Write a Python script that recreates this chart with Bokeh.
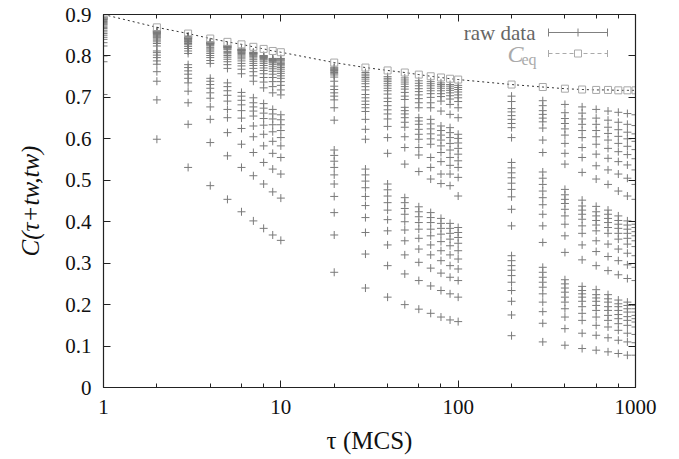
from bokeh.plotting import figure
from bokeh.models import (LinearAxis, LogAxis, SingleIntervalTicker, LogTicker, LogTickFormatter,
                          Range1d, Label, Whisker, TeeHead, BoxAnnotation, ColumnDataSource)
from bokeh.embed import file_html
from bokeh.resources import INLINE

# lag times tau (MCS)
tau = [1, 2, 3, 4, 5, 6, 7, 8, 9, 10, 20, 30, 40, 50, 60, 70, 80, 90, 100,
       200, 300, 400, 500, 600, 700, 800, 900, 1000]
# waiting times tw (one value per point inside every column)
tw = [1, 2, 3, 4, 5, 6, 7, 8, 9, 10, 20, 30, 40, 50, 60, 70, 80, 90, 100,
      200, 300, 400, 500, 600, 700, 800, 900]

# raw data C(tau+tw, tw), one list per tau, ordered by tw
c_t1 = [0.707, 0.786, 0.800, 0.824, 0.832, 0.840, 0.845, 0.850, 0.854, 0.858,
        0.862, 0.866, 0.869, 0.872, 0.875, 0.877, 0.879, 0.881, 0.883,
        0.885, 0.887, 0.888, 0.889, 0.890, 0.891, 0.892, 0.893, 0.894]
c_t2 = [0.599, 0.694, 0.739, 0.762, 0.780, 0.788, 0.796, 0.802, 0.808, 0.812,
        0.824, 0.830, 0.834, 0.838, 0.841, 0.844, 0.846, 0.848, 0.850,
        0.852, 0.854, 0.855, 0.856, 0.857, 0.858, 0.859, 0.860, 0.861]
c_t3 = [0.531, 0.635, 0.687, 0.715, 0.735, 0.746, 0.756, 0.764, 0.772, 0.779,
        0.806, 0.812, 0.818, 0.823, 0.827, 0.830, 0.833, 0.835, 0.837,
        0.840, 0.841, 0.842, 0.843, 0.844, 0.845, 0.846, 0.847, 0.848]
c_t4 = [0.487, 0.591, 0.647, 0.677, 0.698, 0.711, 0.722, 0.731, 0.739, 0.746,
        0.782, 0.789, 0.796, 0.801, 0.806, 0.810, 0.814, 0.817, 0.820,
        0.824, 0.826, 0.828, 0.829, 0.830, 0.831, 0.832, 0.833, 0.834]
c_t5 = [0.454, 0.559, 0.615, 0.651, 0.671, 0.691, 0.705, 0.716, 0.726, 0.735,
        0.770, 0.779, 0.786, 0.792, 0.797, 0.801, 0.805, 0.808, 0.811,
        0.815, 0.817, 0.819, 0.820, 0.821, 0.822, 0.823, 0.824, 0.825]
c_t6 = [0.424, 0.531, 0.587, 0.625, 0.650, 0.668, 0.682, 0.693, 0.703, 0.712,
        0.757, 0.768, 0.776, 0.782, 0.788, 0.793, 0.797, 0.800, 0.803,
        0.806, 0.808, 0.810, 0.812, 0.813, 0.814, 0.815, 0.816, 0.817]
c_t7 = [0.402, 0.511, 0.567, 0.605, 0.631, 0.655, 0.667, 0.677, 0.687, 0.699,
        0.739, 0.752, 0.762, 0.770, 0.777, 0.782, 0.787, 0.791, 0.795,
        0.798, 0.800, 0.802, 0.804, 0.805, 0.806, 0.807, 0.808, 0.809]
c_t8 = [0.384, 0.491, 0.543, 0.583, 0.611, 0.633, 0.649, 0.662, 0.674, 0.685,
        0.723, 0.737, 0.748, 0.757, 0.765, 0.771, 0.777, 0.782, 0.786,
        0.790, 0.792, 0.794, 0.796, 0.797, 0.798, 0.799, 0.800, 0.801]
c_t9 = [0.368, 0.472, 0.527, 0.565, 0.594, 0.617, 0.634, 0.648, 0.660, 0.671,
        0.711, 0.726, 0.738, 0.748, 0.756, 0.763, 0.769, 0.774, 0.779,
        0.783, 0.785, 0.787, 0.789, 0.790, 0.791, 0.792, 0.793, 0.794]
c_t10 = [0.355, 0.457, 0.515, 0.555, 0.583, 0.603, 0.620, 0.634, 0.646, 0.658,
         0.706, 0.718, 0.729, 0.738, 0.746, 0.752, 0.758, 0.763, 0.768,
         0.772, 0.776, 0.779, 0.782, 0.785, 0.788, 0.790, 0.792, 0.794]
c_t20 = [0.278, 0.368, 0.422, 0.461, 0.491, 0.513, 0.531, 0.546, 0.560, 0.573,
         0.645, 0.675, 0.694, 0.703, 0.711, 0.719, 0.727, 0.739, 0.749,
         0.754, 0.757, 0.760, 0.763, 0.765, 0.767, 0.769, 0.771, 0.773]
c_t30 = [0.240, 0.322, 0.374, 0.410, 0.439, 0.461, 0.482, 0.498, 0.513, 0.527,
         0.599, 0.623, 0.647, 0.666, 0.675, 0.683, 0.691, 0.699, 0.707,
         0.718, 0.726, 0.733, 0.739, 0.744, 0.748, 0.752, 0.756, 0.760]
c_t40 = [0.218, 0.294, 0.344, 0.378, 0.405, 0.428, 0.446, 0.462, 0.477, 0.491,
         0.565, 0.603, 0.630, 0.648, 0.660, 0.670, 0.680, 0.690, 0.698,
         0.708, 0.716, 0.722, 0.728, 0.733, 0.738, 0.742, 0.746, 0.750]
c_t50 = [0.200, 0.274, 0.320, 0.354, 0.380, 0.400, 0.418, 0.432, 0.446, 0.458,
         0.539, 0.579, 0.605, 0.628, 0.640, 0.651, 0.660, 0.668, 0.676,
         0.695, 0.703, 0.712, 0.720, 0.726, 0.732, 0.737, 0.742, 0.747]
c_t60 = [0.189, 0.258, 0.302, 0.334, 0.360, 0.382, 0.398, 0.412, 0.424, 0.436,
         0.521, 0.561, 0.579, 0.599, 0.611, 0.623, 0.635, 0.643, 0.651,
         0.675, 0.687, 0.697, 0.706, 0.714, 0.721, 0.728, 0.734, 0.740]
c_t70 = [0.179, 0.245, 0.288, 0.320, 0.344, 0.366, 0.382, 0.398, 0.410, 0.422,
         0.503, 0.531, 0.555, 0.587, 0.600, 0.612, 0.624, 0.636, 0.647,
         0.675, 0.687, 0.700, 0.709, 0.716, 0.722, 0.728, 0.733, 0.738]
c_t80 = [0.170, 0.234, 0.276, 0.306, 0.330, 0.352, 0.370, 0.384, 0.396, 0.408,
         0.492, 0.515, 0.545, 0.567, 0.583, 0.597, 0.609, 0.620, 0.631,
         0.667, 0.691, 0.702, 0.709, 0.716, 0.722, 0.727, 0.731, 0.735]
c_t90 = [0.163, 0.226, 0.266, 0.294, 0.320, 0.342, 0.358, 0.372, 0.384, 0.396,
         0.487, 0.515, 0.536, 0.555, 0.573, 0.589, 0.603, 0.615, 0.627,
         0.659, 0.683, 0.696, 0.704, 0.711, 0.717, 0.722, 0.727, 0.731]
c_t100 = [0.159, 0.218, 0.258, 0.286, 0.310, 0.330, 0.348, 0.362, 0.374, 0.386,
          0.462, 0.507, 0.531, 0.547, 0.563, 0.577, 0.590, 0.601, 0.611,
          0.651, 0.675, 0.690, 0.699, 0.706, 0.713, 0.719, 0.724, 0.729]
c_t200 = [0.125, 0.175, 0.208, 0.234, 0.254, 0.270, 0.283, 0.294, 0.306, 0.318,
          0.390, 0.430, 0.460, 0.478, 0.493, 0.506, 0.518, 0.530, 0.543,
          0.603, 0.627, 0.637, 0.647, 0.656, 0.665, 0.673, 0.690, 0.703]
c_t300 = [0.110, 0.155, 0.183, 0.206, 0.226, 0.242, 0.254, 0.266, 0.278, 0.290,
          0.350, 0.390, 0.418, 0.441, 0.458, 0.474, 0.490, 0.505, 0.520,
          0.567, 0.597, 0.626, 0.641, 0.650, 0.659, 0.668, 0.680, 0.692]
c_t400 = [0.102, 0.142, 0.170, 0.190, 0.206, 0.218, 0.230, 0.240, 0.250, 0.260,
          0.326, 0.366, 0.394, 0.414, 0.430, 0.444, 0.454, 0.465, 0.478,
          0.539, 0.565, 0.589, 0.609, 0.624, 0.637, 0.649, 0.663, 0.683]
c_t500 = [0.094, 0.131, 0.162, 0.179, 0.195, 0.208, 0.218, 0.226, 0.234, 0.244,
          0.308, 0.344, 0.372, 0.390, 0.406, 0.418, 0.428, 0.438, 0.452,
          0.519, 0.555, 0.579, 0.603, 0.620, 0.635, 0.648, 0.662, 0.677]
c_t600 = [0.090, 0.126, 0.150, 0.170, 0.186, 0.198, 0.208, 0.216, 0.224, 0.236,
          0.294, 0.328, 0.354, 0.378, 0.392, 0.403, 0.414, 0.424, 0.437,
          0.503, 0.535, 0.563, 0.587, 0.605, 0.620, 0.635, 0.650, 0.671]
c_t700 = [0.086, 0.120, 0.146, 0.162, 0.174, 0.186, 0.195, 0.206, 0.214, 0.224,
          0.282, 0.316, 0.346, 0.372, 0.386, 0.398, 0.408, 0.418, 0.428,
          0.490, 0.525, 0.553, 0.577, 0.597, 0.613, 0.628, 0.645, 0.667]
c_t800 = [0.082, 0.114, 0.138, 0.154, 0.166, 0.176, 0.186, 0.195, 0.202, 0.211,
          0.272, 0.306, 0.334, 0.358, 0.372, 0.384, 0.394, 0.403, 0.414,
          0.474, 0.515, 0.545, 0.569, 0.589, 0.606, 0.622, 0.640, 0.664]
c_t900 = [0.078, 0.110, 0.131, 0.150, 0.162, 0.171, 0.182, 0.190, 0.198, 0.206,
          0.263, 0.296, 0.324, 0.346, 0.360, 0.372, 0.382, 0.392, 0.402,
          0.462, 0.505, 0.537, 0.562, 0.582, 0.600, 0.616, 0.635, 0.661]
c_t1000 = [0.078, 0.108, 0.128, 0.146, 0.158, 0.166, 0.174, 0.182, 0.190, 0.198,
           0.258, 0.290, 0.318, 0.340, 0.354, 0.366, 0.376, 0.386, 0.394,
           0.454, 0.490, 0.525, 0.552, 0.574, 0.594, 0.612, 0.632, 0.658]

columns = [c_t1, c_t2, c_t3, c_t4, c_t5, c_t6, c_t7, c_t8, c_t9, c_t10,
           c_t20, c_t30, c_t40, c_t50, c_t60, c_t70, c_t80, c_t90, c_t100,
           c_t200, c_t300, c_t400, c_t500, c_t600, c_t700, c_t800, c_t900, c_t1000]

# equilibrium correlation C_eq(tau)
c_eq = [0.900, 0.869, 0.854, 0.842, 0.834, 0.828, 0.822, 0.817, 0.812, 0.809,
        0.784, 0.772, 0.765, 0.760, 0.755, 0.751, 0.748, 0.745, 0.743,
        0.731, 0.725, 0.721, 0.719, 0.718, 0.718, 0.717, 0.717, 0.717]

y_ticks_interval = 0.1

xs, ys = [], []
for t, col in zip(tau, columns):
    for v in col:
        xs.append(t)
        ys.append(v)

FONT = "Liberation Serif"
AX = "#222222"

p = figure(width=679, height=459, x_axis_type="log",
           x_range=Range1d(1, 1000), y_range=Range1d(0, 0.9),
           output_backend="svg", toolbar_location=None,
           min_border_left=103, min_border_right=44,
           min_border_top=14, min_border_bottom=72)
p.grid.visible = False
p.outline_line_color = None
p.background_fill_color = "white"

p.scatter(xs, ys, marker="cross", size=8, line_color="#7a7a7a", line_width=1)
p.line(tau, c_eq, line_color="#333333", line_dash="2 3", line_width=1)
p.scatter(tau, c_eq, marker="square", size=7, fill_color=None,
          line_color="#a8a8a8", line_width=1)

def style_axis(ax):
    ax.axis_line_color = AX
    ax.axis_line_width = 1.2
    ax.major_tick_line_color = AX
    ax.minor_tick_line_color = AX
    ax.major_tick_in = 7
    ax.major_tick_out = 0
    ax.minor_tick_in = 4
    ax.minor_tick_out = 0
    ax.major_label_text_font = FONT
    ax.major_label_text_font_size = "21px"
    ax.major_label_text_color = "#111111"
    ax.axis_label_text_font = FONT
    ax.axis_label_text_font_size = "25px"
    ax.axis_label_text_color = "#111111"

xa = p.xaxis[0]
xa.ticker = LogTicker()
xa.formatter = LogTickFormatter(min_exponent=4)
style_axis(xa)
xa.major_label_standoff = 12
xa.axis_label = "τ (MCS)"
xa.axis_label_standoff = 10
xa.axis_label_text_font_style = "normal"

ya = p.yaxis[0]
ya.ticker = SingleIntervalTicker(interval=y_ticks_interval, num_minor_ticks=0)
style_axis(ya)
ya.major_label_overrides = {0: "0"}
ya.major_label_standoff = 12
ya.axis_label = "C(τ+tw,tw)"
ya.axis_label_standoff = 18
ya.axis_label_text_font_style = "italic"

top = LogAxis(ticker=LogTicker())
style_axis(top)
top.major_label_text_font_size = "2px"
top.major_label_text_color = None
top.major_label_standoff = 0
p.add_layout(top, "above")

right = LinearAxis(ticker=SingleIntervalTicker(interval=y_ticks_interval, num_minor_ticks=0))
style_axis(right)
right.major_label_text_font_size = "2px"
right.major_label_text_color = None
right.major_label_standoff = 0
p.add_layout(right, "right")

# key (gnuplot style: text on the left, sample on the right)
p.add_layout(Label(x=432, y=355, x_units="screen", y_units="screen", text="raw data",
                   text_align="right", text_baseline="middle", text_font=FONT,
                   text_font_size="21px", text_color="#666666"))
raw_src = ColumnDataSource(dict(b=[355], lo=[445], up=[504]))
p.add_layout(Whisker(source=raw_src, base="b", lower="lo", upper="up", dimension="width",
                     base_units="screen", lower_units="screen", upper_units="screen",
                     line_color="#808080", line_width=1,
                     lower_head=TeeHead(size=8, line_color="#808080"),
                     upper_head=TeeHead(size=8, line_color="#808080")))
tick_src = ColumnDataSource(dict(b=[474.5], lo=[351], up=[359]))
p.add_layout(Whisker(source=tick_src, base="b", lower="lo", upper="up", dimension="height",
                     base_units="screen", lower_units="screen", upper_units="screen",
                     line_color="#808080", line_width=1, lower_head=None, upper_head=None))

p.add_layout(Label(x=420, y=334, x_units="screen", y_units="screen", text="C",
                   text_align="right", text_baseline="middle", text_font=FONT,
                   text_font_style="italic", text_font_size="24px", text_color="#aaaaaa"))
p.add_layout(Label(x=433, y=328, x_units="screen", y_units="screen", text="eq",
                   text_align="right", text_baseline="middle", text_font=FONT,
                   text_font_size="16px", text_color="#aaaaaa"))
eq_src = ColumnDataSource(dict(b=[334], lo=[445], up=[504]))
p.add_layout(Whisker(source=eq_src, base="b", lower="lo", upper="up", dimension="width",
                     base_units="screen", lower_units="screen", upper_units="screen",
                     line_color="#aaaaaa", line_width=1, line_dash="4 3",
                     lower_head=TeeHead(size=7, line_color="#aaaaaa"),
                     upper_head=TeeHead(size=7, line_color="#aaaaaa")))
p.add_layout(BoxAnnotation(left=471, right=478, bottom=330.5, top=337.5,
                           left_units="screen", right_units="screen",
                           bottom_units="screen", top_units="screen",
                           fill_color="white", fill_alpha=1.0,
                           line_color="#aaaaaa", line_width=1, line_alpha=1.0))

open("out.html", "w").write(file_html(p, INLINE))
